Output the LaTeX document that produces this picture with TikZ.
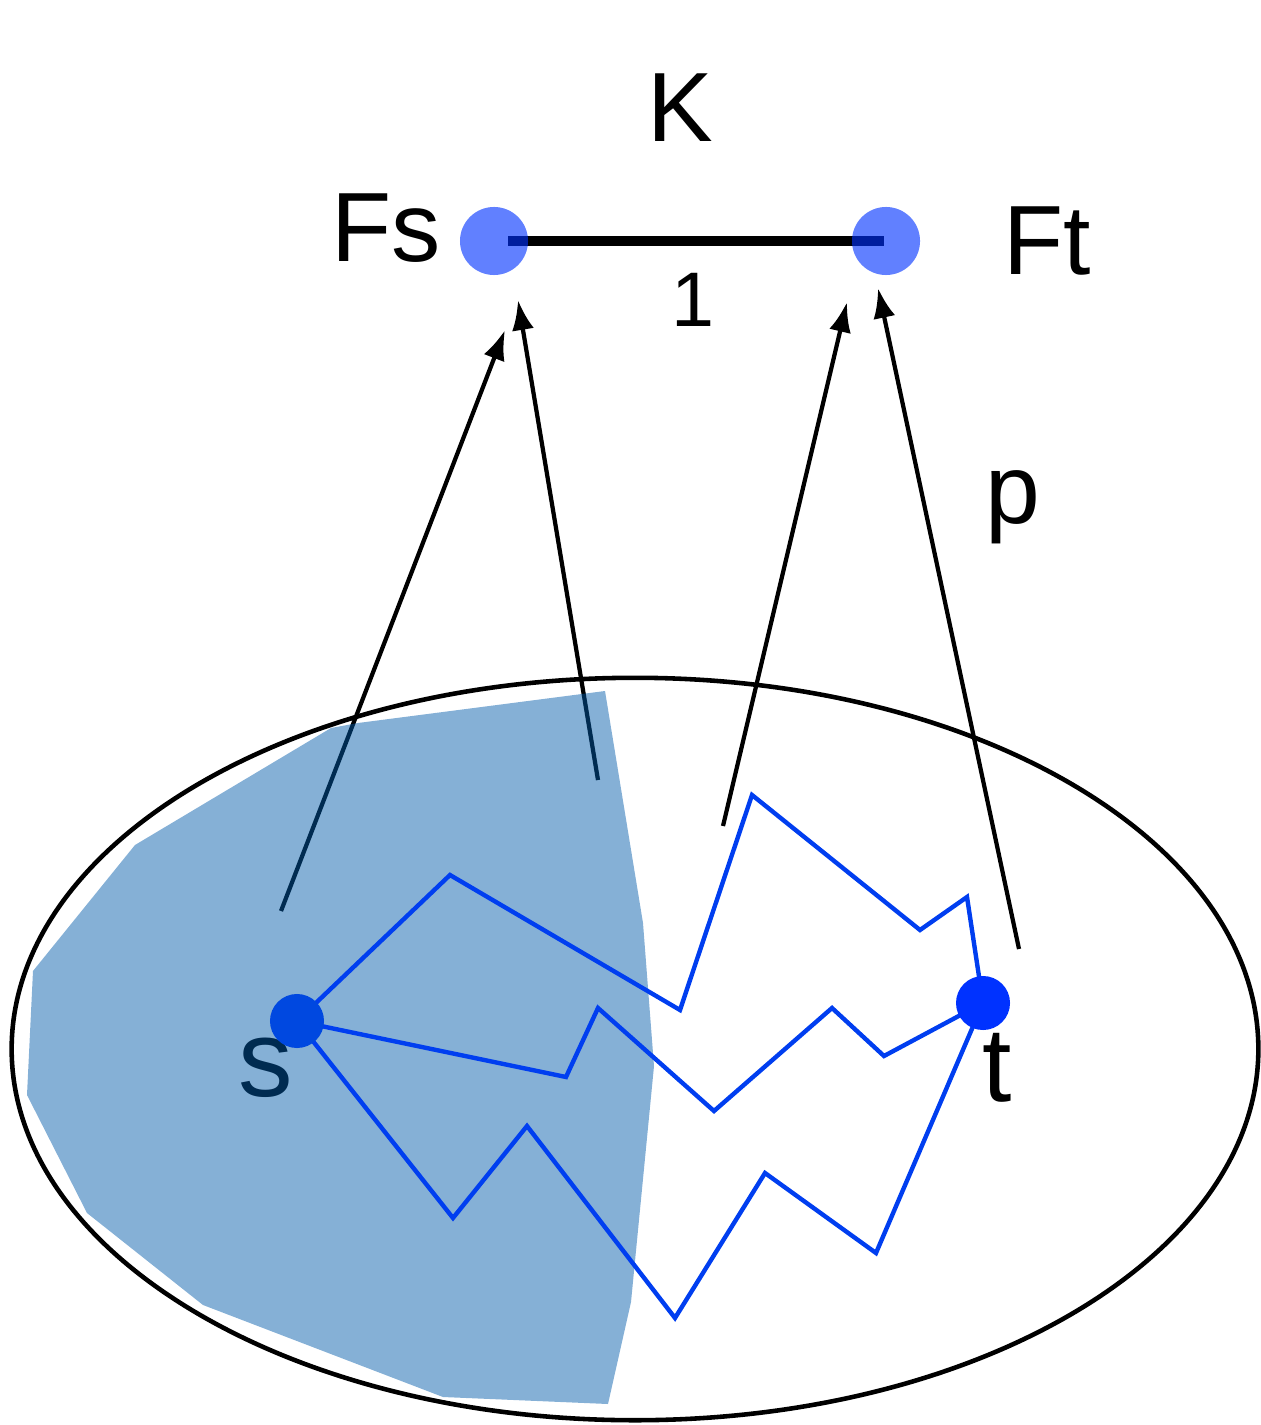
\documentclass[tikz,border=0pt]{standalone}
\usepackage{fontspec}
\setmainfont{Liberation Sans}
\usepackage{tikz}
\usetikzlibrary{arrows.meta,positioning}

\definecolor{dotlight}{RGB}{0,50,255}
\definecolor{sdot}{RGB}{0,72,224}
\definecolor{pathblue}{RGB}{0,62,240}
\definecolor{regionblue}{RGB}{0,90,170}

\begin{document}
\begin{tikzpicture}[
    x=0.01cm,y=-0.01cm,
    bigdot/.style={circle,fill=dotlight,fill opacity=0.62,minimum size=0.68cm,inner sep=0pt},
    spot/.style={circle,minimum size=0.68cm,inner sep=0pt},
    smalldot/.style={circle,minimum size=0.54cm,inner sep=0pt},
    lbl/.style={inner sep=0pt,font=\fontsize{28}{30}\selectfont},
    arrow/.style={-{Latex[length=3mm,width=2.2mm]},line width=1.2pt},
    walk/.style={pathblue,line width=1.25pt,line join=miter},
    region/.style={fill=regionblue,fill opacity=0.48}
    ]

    \useasboundingbox (0,0) rectangle (1260,1425);

    % labels of K
    \node[lbl] (K) at (680,108) {K};
    \node[lbl] (Fslbl) at (386,228) {Fs};
    \node[lbl] (Ftlbl) at (1047,241) {Ft};
    \node[inner sep=0pt,font=\fontsize{22}{24}\selectfont] (one) at (693,300) {1};
    \node[lbl] (p) at (1013,507) {p};

    % the big oval
    \draw[line width=1.3pt] (635,1049) ellipse [x radius=6.23cm,y radius=3.71cm];

    % arrows up to K
    \coordinate (a1) at (281,911);
    \coordinate (b1) at (505,330);
    \coordinate (a2) at (598,780);
    \coordinate (b2) at (518,300);
    \coordinate (a3) at (723,826);
    \coordinate (b3) at (847,302);
    \coordinate (a4) at (1019,949);
    \coordinate (b4) at (878,288);
    \draw[arrow] (a1)--(b1);
    \draw[arrow] (a2)--(b2);
    \draw[arrow] (a3)--(b3);
    \draw[arrow] (a4)--(b4);

    \node[lbl,font=\fontsize{31}{33}\selectfont] (slbl) at (266,1068) {s};
    \node[lbl,font=\fontsize{30}{32}\selectfont] (tlbl) at (997,1068) {t};

    % shaded part
    \fill[region] (605,691) -- (643,923) -- (654,1066) -- (631,1302) -- (608,1404)
      -- (443,1397) -- (203,1305) -- (87,1213) -- (27,1095) -- (33,971)
      -- (135,845) -- (331,728) -- (358,723) -- cycle;

    % edge of K
    \node[spot] (Fs) at (494,241) {};
    \node[spot] (Ft) at (886,241) {};
    \draw[line width=2.6pt,shorten <=0.14cm,shorten >=0.02cm] (Fs.center)--(Ft.center);
    \node[bigdot] at (Fs) {};
    \node[bigdot] at (Ft) {};

    % paths from s to t
    \node[smalldot] (s) at (297,1021) {};
    \node[smalldot] (t) at (983,1003) {};
    \draw[walk] (s.center) -- (450,875) -- (680,1010) -- (752,795) -- (920,930) -- (967,897) -- (t.center);
    \draw[walk] (s.center) -- (566,1077) -- (598,1008) -- (714,1111) -- (832,1008) -- (884,1056) -- (t.center);
    \draw[walk] (s.center) -- (453,1218) -- (527,1126) -- (675,1318) -- (765,1173) -- (876,1253) -- (t.center);
    \node[smalldot,fill=sdot] at (s) {};
    \node[smalldot,fill=dotlight] at (t) {};

  \end{tikzpicture}
\end{document}
